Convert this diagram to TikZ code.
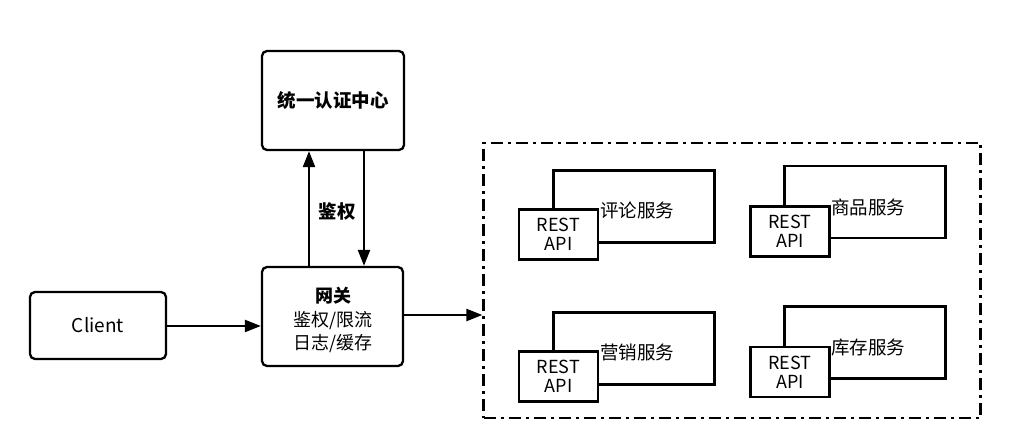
\documentclass[tikz,border=0pt]{standalone}
\usepackage{fontspec}
\setmainfont{Noto Sans CJK SC}
\usetikzlibrary{arrows.meta}
\tikzset{
  lw/.style={line width=2.3pt},
  rbox/.style={lw, draw, rounded corners=5pt, inner sep=0pt, fill=white},
  sbox/.style={lw, draw, inner sep=0pt, fill=white},
  arr/.style={lw, -{Triangle[length=16pt,width=12pt]}},
  txt/.style={font=\fontsize{18.5}{21}\selectfont, inner sep=0pt},
  api/.style={sbox, minimum width=79pt, minimum height=50pt, align=center, font=\fontsize{18}{21}\selectfont},
  svc/.style={sbox, minimum width=161pt, minimum height=72pt},
  grp/.style={lw, draw, dash pattern=on 12pt off 5pt on 3pt off 5pt}
}
\begin{document}
\begin{tikzpicture}[x=1pt,y=-1pt]
\useasboundingbox (0,0) rectangle (1014,430);
% main boxes
\node[rbox, minimum width=142pt, minimum height=99pt, font=\bfseries\fontsize{18.5}{21}\selectfont] (auth) at (333,100.5) {统一认证中心};
\node[rbox, minimum width=141pt, minimum height=99pt] (gw) at (332.5,316.5) {};
\node[align=center, inner sep=0pt, font=\fontsize{18}{23.5}\selectfont] (gwt) at (333,320) {\textbf{网关}\\鉴权/限流\\日志/缓存};
\node[rbox, minimum width=136pt, minimum height=67pt, font=\fontsize{19}{22}\selectfont] (client) at (98,325.5) {Client};
% group
\node[grp, minimum width=497pt, minimum height=275pt, inner sep=0pt] (grp) at (732,280.5) {};
% arrows
\draw[arr] (client.east |- 0,326) -- (gw.west |- 0,326);
\draw[arr] (gw.north -| 309,0) -- (auth.south -| 309,0);
\draw[arr] (auth.south -| 364,0) -- (gw.north -| 364,0);
\node[txt, font=\bfseries\fontsize{18.5}{21}\selectfont] (jq) at (337,212) {鉴权};
\draw[arr] (gw.east |- 0,315) -- (grp.west |- 0,315);
% services
\node[svc] (s1) at (634,206.5) {};
\node[api] (a1) at (558.5,234.5) {REST\\[-2pt]API};
\node[txt, anchor=west] (t1) at (600,210) {评论服务};
\node[svc] (s2) at (865,202) {};
\node[api] (a2) at (790,231.5) {REST\\[-2pt]API};
\node[txt, anchor=west] (t2) at (831,207) {商品服务};
\node[svc] (s3) at (634,348.5) {};
\node[api] (a3) at (558.5,376.5) {REST\\[-2pt]API};
\node[txt, anchor=west] (t3) at (600,352) {营销服务};
\node[svc] (s4) at (865,342.5) {};
\node[api] (a4) at (790,372) {REST\\[-2pt]API};
\node[txt, anchor=west] (t4) at (831,348) {库存服务};
\end{tikzpicture}
\end{document}
